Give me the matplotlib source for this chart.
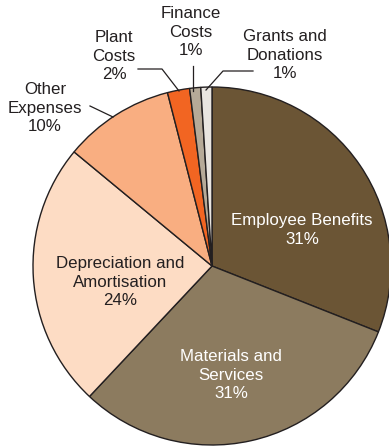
import matplotlib
matplotlib.use("Agg")
import matplotlib.pyplot as plt

plt.rcParams['font.family'] = ['Liberation Sans', 'DejaVu Sans']

categories = ["Employee Benefits", "Materials and Services", "Depreciation and Amortisation",
              "Other Expenses", "Plant Costs", "Finance Costs", "Grants and Donations"]
shares = [31, 31, 24, 10, 2, 1, 1]
colors = ["#6b5535", "#8c7b5f", "#fddcc4", "#f9ae81", "#f26522", "#b6aa98", "#e9e5e0"]

W, H = 389, 448
fig = plt.figure(figsize=(W / 100, H / 100), dpi=100)
ax = fig.add_axes([0, 0, 1, 1])

cx, cy, r = 212, H - 266, 179
ax.pie(shares, colors=colors, startangle=90, counterclock=False,
       center=(cx, cy), radius=r, frame=True,
       wedgeprops=dict(edgecolor="#231f20", linewidth=1.0))
ax.set_xlim(0, W)
ax.set_ylim(0, H)
ax.set_aspect('equal')
ax.axis('off')

fs = 12.2
ls = 1.27


def label(x, y, txt, color="#231f20"):
    ax.text(x, H - y, txt, ha='center', va='center', fontsize=fs,
            color=color, linespacing=ls)


# slice labels inside the pie
label(302, 230, f"Employee Benefits\n{shares[0]}%", "white")
label(231, 375, f"Materials and\nServices\n{shares[1]}%", "white")
label(120, 282, f"Depreciation and\nAmortisation\n{shares[2]}%")

# labels for the small slices, outside the pie
label(45, 108, f"Other\nExpenses\n{shares[3]}%")
label(114, 56, f"Plant\nCosts\n{shares[4]}%")
label(191, 32, f"Finance\nCosts\n{shares[5]}%")
label(285, 55, f"Grants and\nDonations\n{shares[6]}%")

# leader lines
lc = dict(color="#231f20", linewidth=0.9)
ax.plot([90, 113], [H - 106, H - 117], **lc)
ax.plot([138, 162, 179], [H - 69, H - 69, H - 91], **lc)
ax.plot([193, 193], [H - 66, H - 91], **lc)
ax.plot([253, 223, 206], [H - 71, H - 71, H - 90], **lc)

fig.savefig("out.png", dpi=100)
